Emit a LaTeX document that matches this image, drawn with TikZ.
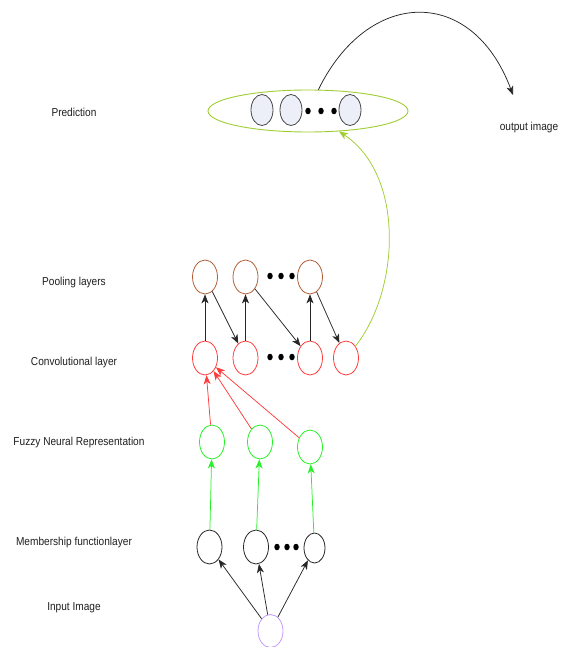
\documentclass[tikz,border=0pt]{standalone}
\usepackage{fontspec}
\setmainfont{Liberation Sans}
\newfontfamily\lblfont[FakeStretch=0.88]{Liberation Sans}
\usetikzlibrary{shapes.geometric,arrows.meta}
\definecolor{predgreen}{RGB}{160,205,50}
\definecolor{poolbrown}{RGB}{175,95,55}
\definecolor{convred}{RGB}{255,60,60}
\definecolor{fuzzgreen}{RGB}{40,240,40}
\definecolor{inpurple}{RGB}{195,155,255}
\definecolor{neufill}{RGB}{236,239,247}
\definecolor{neuline}{RGB}{70,70,70}
\definecolor{txt}{RGB}{30,30,30}
\begin{document}
\begin{tikzpicture}[x=1pt,y=-1pt,
  neuron/.style={ellipse,draw,line width=0.8pt,inner sep=0pt,minimum width=25pt,minimum height=34pt},
  prednode/.style={neuron,draw=neuline,fill=neufill,minimum width=22pt,minimum height=31pt},
  poolnode/.style={neuron,draw=poolbrown},
  convnode/.style={neuron,draw=convred},
  fuzznode/.style={neuron,draw=fuzzgreen},
  memnode/.style={neuron,draw=black!85},
  innode/.style={neuron,draw=inpurple},
  dot/.style={ellipse,fill=black,inner sep=0pt,minimum width=5.5pt,minimum height=6.5pt},
  lbl/.style={font=\lblfont\fontsize{11.5}{13}\selectfont,text=txt,inner sep=0pt},
  arr/.style={line width=0.75pt,-{Stealth[length=9pt,width=7pt,inset=2.5pt]}},
]
\useasboundingbox (0,0) rectangle (563,647);

% labels
\node[lbl] (lpred) at (74,112) {Prediction};
\node[lbl] (lout) at (529,128) {output image};
\node[lbl] (lpool) at (74,283) {Pooling layers};
\node[lbl] (lconv) at (74,363) {Convolutional layer};
\node[lbl] (lfuzz) at (79,443) {Fuzzy Neural Representation};
\node[lbl] (lmem) at (74,543) {Membership functionlayer};
\node[lbl] (lin) at (74,608) {Input Image};

% prediction
\node[ellipse,draw=predgreen,line width=0.9pt,minimum width=200pt,minimum height=42pt,inner sep=0pt] (pred) at (308,111) {};
\node[prednode] (q1) at (262,110) {};
\node[prednode] (q2) at (291,110) {};
\node[prednode] (q3) at (350,110) {};
\node[dot] (qd1) at (308,111) {};
\node[dot] (qd2) at (321,111) {};
\node[dot] (qd3) at (334,111) {};

% pooling
\node[poolnode] (p1) at (205,277) {};
\node[poolnode] (p2) at (245.5,277) {};
\node[poolnode] (p3) at (310,277) {};
\node[dot] (pd1) at (270,276) {};
\node[dot] (pd2) at (281,276) {};
\node[dot] (pd3) at (292,276) {};

% convolution
\node[convnode] (c1) at (205,358) {};
\node[convnode] (c2) at (245.5,358) {};
\node[convnode] (c3) at (310,358) {};
\node[convnode] (c4) at (346,358) {};
\node[dot] (cd1) at (270,357) {};
\node[dot] (cd2) at (281,357) {};
\node[dot] (cd3) at (292,357) {};

% fuzzy
\node[fuzznode] (f1) at (212,442) {};
\node[fuzznode] (f2) at (260,442) {};
\node[fuzznode] (f3) at (310,447) {};

% membership
\node[memnode] (m1) at (209.5,547) {};
\node[memnode] (m2) at (256,547) {};
\node[memnode,minimum width=21pt,minimum height=30pt] (m3) at (314.5,548) {};
\node[dot] (md1) at (277,547) {};
\node[dot] (md2) at (287,547) {};
\node[dot] (md3) at (296,547) {};

% input
\node[innode,minimum height=33pt] (in) at (270.5,631) {};

% connectors
\coordinate (outend) at (513,95);
\draw[arr,black!85] (pred) .. controls (368,-12) and (472,-15) .. (outend);
\draw[arr,predgreen] (c4) .. controls (400,290) and (405,175) .. (pred);

\draw[arr,black!85] (c1) -- (p1);
\draw[arr,black!85] (p1) -- (c2);
\draw[arr,black!85] (c2) -- (p2);
\draw[arr,black!85] (p2) -- (c3);
\draw[arr,black!85] (c3) -- (p3);
\draw[arr,black!85] (p3) -- (c4);

\draw[arr,convred] (f1) -- (c1);
\draw[arr,convred] (f2) -- (c1);
\draw[arr,convred] (f3) -- (c1);

\draw[arr,fuzzgreen] (m1) -- (f1);
\draw[arr,fuzzgreen] (m2) -- (f2);
\draw[arr,fuzzgreen] (m3) -- (f3);

\draw[arr,black!85] (in) -- (m1);
\draw[arr,black!85] (in) -- (m2);
\draw[arr,black!85] (in) -- (m3);
\end{tikzpicture}
\end{document}
